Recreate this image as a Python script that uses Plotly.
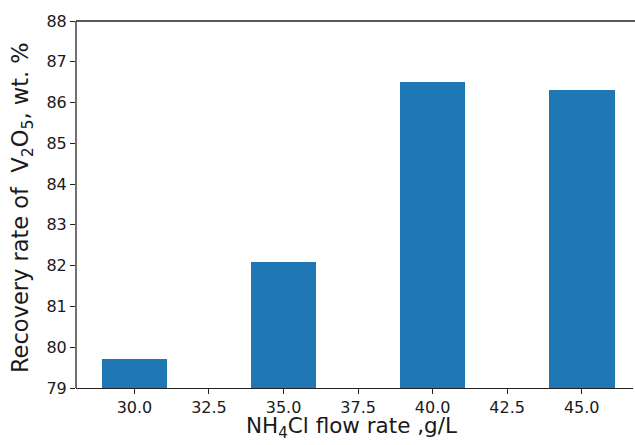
import plotly.graph_objects as go

flow_rates = [30, 35, 40, 45]
recovery = [79.7, 82.1, 86.5, 86.3]
x_ticks = [30.0, 32.5, 35.0, 37.5, 40.0, 42.5, 45.0]
x_tick_labels = ["30.0", "32.5", "35.0", "37.5", "40.0", "42.5", "45.0"]
y_ticks = [79, 80, 81, 82, 83, 84, 85, 86, 87, 88]
x_title = "NH<sub>4</sub>Cl flow rate ,g/L"
y_title = "Recovery rate of&nbsp; V<sub>2</sub>O<sub>5</sub>, wt. %"

font_family = "DejaVu Sans"
spine = dict(color="#222", width=1.3)

fig = go.Figure()
fig.add_trace(go.Bar(
    x=flow_rates, y=recovery, width=2.2,
    marker=dict(color="#1f77b4", line=dict(width=0)),
))

fig.update_layout(
    width=635, height=445,
    margin=dict(l=76, r=2, t=21, b=57, autoexpand=False),
    paper_bgcolor="white", plot_bgcolor="white",
    showlegend=False,
    font=dict(family=font_family, color="#1a1a1a", size=16),
    bargap=0,
    shapes=[
        dict(type="line", xref="paper", yref="paper", x0=0, x1=1.01, y0=1, y1=1, line=spine),
        dict(type="line", xref="paper", yref="paper", x0=0, x1=0, y0=0, y1=1, line=spine),
    ],
    annotations=[
        dict(text=x_title, xref="paper", yref="paper", x=0.494, y=-0.108,
             xanchor="center", yanchor="middle", showarrow=False,
             font=dict(size=21.5, family=font_family, color="#1a1a1a")),
        dict(text=y_title, xref="paper", yref="paper", x=-0.097, y=0.493,
             xanchor="center", yanchor="middle", showarrow=False, textangle=-90,
             font=dict(size=22.5, family=font_family, color="#1a1a1a")),
    ],
)
fig.update_xaxes(
    range=[28.04, 46.72],
    tickvals=x_ticks, ticktext=x_tick_labels,
    ticks="outside", ticklen=5, tickwidth=1.2, tickcolor="#222",
    showline=True, linecolor="#222", linewidth=1.3, mirror=False,
    showgrid=False, zeroline=False, automargin=False,
    tickfont=dict(size=16, family=font_family),
)
fig.update_yaxes(
    range=[79, 88],
    tickvals=y_ticks,
    ticks="outside", ticklen=5, tickwidth=1.2, tickcolor="#222",
    showline=False, mirror=False,
    showgrid=False, zeroline=False, automargin=False,
    tickfont=dict(size=16, family=font_family),
)

fig.write_html("out.html")
